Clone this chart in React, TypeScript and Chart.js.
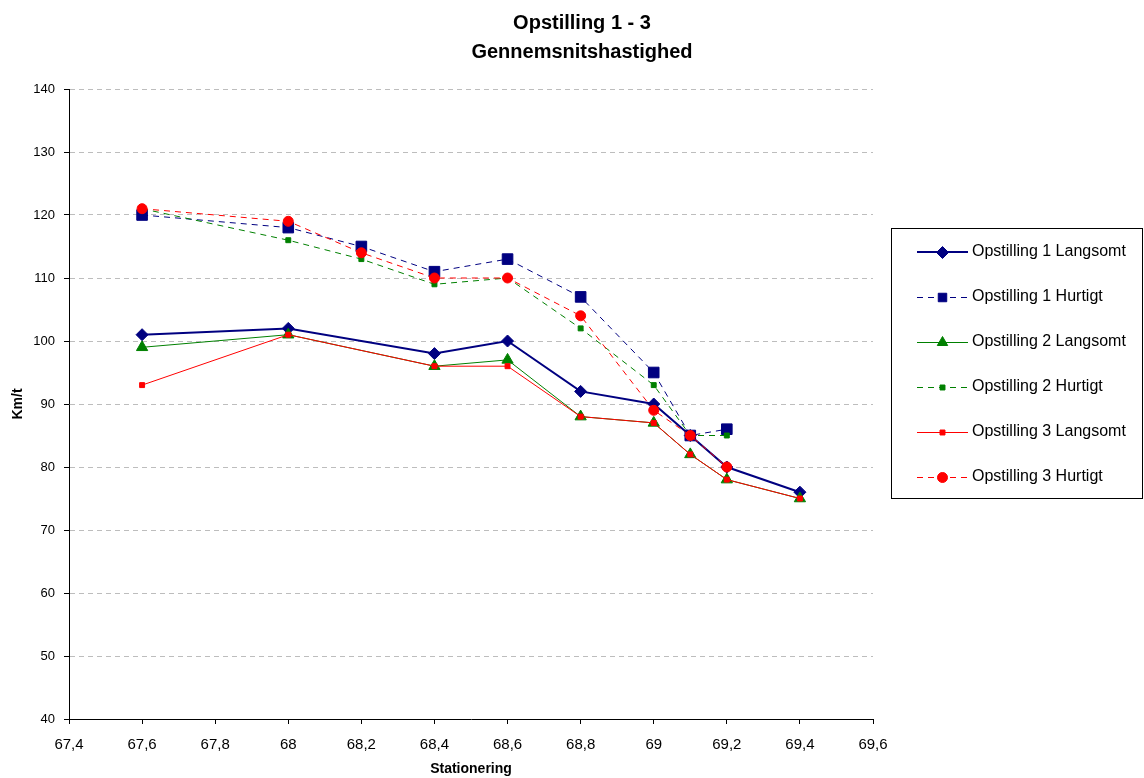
import React, { useEffect, useRef } from 'react';
import { Chart, registerables } from 'chart.js';

Chart.register(...registerables);

// ---- Data ----
const stationsLangsomt = [67.6, 68, 68.4, 68.6, 68.8, 69, 69.1, 69.2, 69.4];
const stationsHurtigt = [67.6, 68, 68.2, 68.4, 68.6, 68.8, 69, 69.1, 69.2];

const op1Langsomt = [101, 102, 98, 100, 92, 90, 85, 80, 76];
const op1Hurtigt = [120, 118, 115, 111, 113, 107, 95, 85, 86];
const op2Langsomt = [99, 101, 96, 97, 88, 87, 82, 78, 75];
const op2Hurtigt = [121, 116, 113, 109, 110, 102, 93, 85, 85];
const op3Langsomt = [93, 101, 96, 96, 88, 87, 82, 78, 75];
const op3Hurtigt = [121, 119, 114, 110, 110, 104, 89, 85, 80];

const seriesLabels = [
  'Opstilling 1 Langsomt',
  'Opstilling 1 Hurtigt',
  'Opstilling 2 Langsomt',
  'Opstilling 2 Hurtigt',
  'Opstilling 3 Langsomt',
  'Opstilling 3 Hurtigt',
];

const titleLines = ['Opstilling 1 - 3', 'Gennemsnitshastighed'];
const xAxisTitle = 'Stationering';
const yAxisTitle = 'Km/t';

const FONT = "'Liberation Sans', Arial, sans-serif";

const toPoints = (xs: number[], ys: number[]) => xs.map((x, i) => ({ x, y: ys[i] }));

type Style = {
  color: string;
  width: number;
  dash: number[];
  point: string;
  radius: number;
};

const styles: Style[] = [
  { color: '#000080', width: 2, dash: [], point: 'rectRot', radius: 6 },
  { color: '#000080', width: 1, dash: [6, 5], point: 'rect', radius: 7.5 },
  { color: '#008000', width: 1, dash: [], point: 'triangle', radius: 6.5 },
  { color: '#008000', width: 1, dash: [6, 5], point: 'rect', radius: 3.5 },
  { color: '#FF0000', width: 1, dash: [], point: 'rect', radius: 3.5 },
  { color: '#FF0000', width: 1, dash: [6, 5], point: 'circle', radius: 5 },
];

function drawMarker(ctx: CanvasRenderingContext2D, style: string, x: number, y: number, r: number, color: string) {
  ctx.save();
  ctx.fillStyle = color;
  ctx.strokeStyle = color;
  ctx.lineWidth = 1;
  ctx.setLineDash([]);
  ctx.beginPath();
  if (style === 'rectRot') {
    ctx.moveTo(x, y - r);
    ctx.lineTo(x + r, y);
    ctx.lineTo(x, y + r);
    ctx.lineTo(x - r, y);
    ctx.closePath();
  } else if (style === 'rect') {
    const s = Math.SQRT1_2 * r;
    ctx.rect(x - s, y - s, 2 * s, 2 * s);
  } else if (style === 'triangle') {
    let rad = 0;
    ctx.moveTo(x + Math.sin(rad) * r, y - Math.cos(rad) * r);
    rad += (2 * Math.PI) / 3;
    ctx.lineTo(x + Math.sin(rad) * r, y - Math.cos(rad) * r);
    rad += (2 * Math.PI) / 3;
    ctx.lineTo(x + Math.sin(rad) * r, y - Math.cos(rad) * r);
    ctx.closePath();
  } else {
    ctx.arc(x, y, r, 0, Math.PI * 2);
  }
  ctx.fill();
  ctx.stroke();
  ctx.restore();
}

const titlePlugin = {
  id: 'customTitle',
  afterDraw(chart: any) {
    const ctx = chart.ctx as CanvasRenderingContext2D;
    ctx.save();
    ctx.fillStyle = '#000';
    ctx.font = `bold 20px ${FONT}`;
    ctx.textAlign = 'center';
    ctx.textBaseline = 'middle';
    ctx.fillText(titleLines[0], 582, 23);
    ctx.fillText(titleLines[1], 582, 52);
    ctx.restore();
  },
};

const legendPlugin = {
  id: 'customLegend',
  afterDraw(chart: any) {
    const ctx = chart.ctx as CanvasRenderingContext2D;
    const boxL = 891.5, boxT = 228.5, boxW = 251, boxH = 270;
    ctx.save();
    ctx.fillStyle = '#fff';
    ctx.fillRect(boxL, boxT, boxW, boxH);
    ctx.strokeStyle = '#000';
    ctx.lineWidth = 1;
    ctx.strokeRect(boxL, boxT, boxW, boxH);
    chart.data.datasets.forEach((ds: any, i: number) => {
      const st = styles[i];
      const y = 251.5 + i * 45.1;
      const ly = Math.round(y) + (st.width % 2 ? 0.5 : 0);
      ctx.save();
      ctx.strokeStyle = st.color;
      ctx.lineWidth = st.width;
      ctx.setLineDash(st.dash);
      ctx.beginPath();
      ctx.moveTo(917, ly);
      ctx.lineTo(968, ly);
      ctx.stroke();
      ctx.restore();
      drawMarker(ctx, st.point, 942.5, Math.round(y) + 0.5, Math.min(st.radius, 6), st.color);
      ctx.fillStyle = '#000';
      ctx.font = `16px ${FONT}`;
      ctx.textAlign = 'left';
      ctx.textBaseline = 'middle';
      ctx.fillText(ds.label, 972, y);
    });
    ctx.restore();
  },
};

const formatTick = (v: number) => {
  const r = Math.round(v * 10) / 10;
  return String(r).replace('.', ',');
};

export default function App() {
  const canvasRef = useRef<HTMLCanvasElement | null>(null);

  useEffect(() => {
    if (!canvasRef.current) return;
    const seriesData = [
      toPoints(stationsLangsomt, op1Langsomt),
      toPoints(stationsHurtigt, op1Hurtigt),
      toPoints(stationsLangsomt, op2Langsomt),
      toPoints(stationsHurtigt, op2Hurtigt),
      toPoints(stationsLangsomt, op3Langsomt),
      toPoints(stationsHurtigt, op3Hurtigt),
    ];
    const datasets = seriesData.map((data, i) => ({
      label: seriesLabels[i],
      data,
      borderColor: styles[i].color,
      backgroundColor: styles[i].color,
      borderWidth: styles[i].width,
      borderDash: styles[i].dash,
      pointStyle: styles[i].point,
      pointRadius: styles[i].radius,
      pointHoverRadius: styles[i].radius,
      pointBackgroundColor: styles[i].color,
      pointBorderColor: styles[i].color,
      pointBorderWidth: 1,
      tension: 0,
      fill: false,
      order: seriesData.length - i,
    }));

    const chart = new Chart(canvasRef.current, {
      type: 'line',
      data: { datasets },
      options: {
        animation: false,
        responsive: false,
        events: [],
        layout: { padding: { top: 89, right: 271, left: 0, bottom: 0 } },
        plugins: {
          legend: { display: false },
          title: { display: false },
          tooltip: { enabled: false },
        },
        scales: {
          x: {
            type: 'linear',
            min: 67.4,
            max: 69.6,
            afterFit: (scale: any) => {
              scale.height = 59;
            },
            ticks: {
              stepSize: 0.2,
              color: '#000',
              font: { family: FONT, size: 15 },
              padding: 12,
              maxRotation: 0,
              autoSkip: false,
              callback: (v: any) => formatTick(Number(v)),
            },
            grid: {
              display: true,
              drawOnChartArea: false,
              drawTicks: true,
              tickLength: 5,
              tickColor: '#000',
              tickBorderDash: [],
              color: '#000',
            },
            border: { display: true, color: '#000', width: 1, z: 1 },
            title: {
              display: true,
              text: xAxisTitle,
              color: '#000',
              font: { family: FONT, size: 14, weight: 'bold' },
              padding: { top: 0, bottom: 0 },
            },
          },
          y: {
            type: 'linear',
            min: 40,
            max: 140,
            afterFit: (scale: any) => {
              scale.width = 69;
            },
            ticks: {
              stepSize: 10,
              color: '#000',
              font: { family: FONT, size: 13 },
              padding: 9,
            },
            grid: {
              display: true,
              drawOnChartArea: true,
              drawTicks: true,
              tickLength: 5,
              tickColor: '#000',
              tickBorderDash: [],
              color: '#bdbdbd',
              lineWidth: 1,
            },
            border: { display: true, color: '#000', width: 1, dash: [5, 4], z: 1 },
            title: {
              display: true,
              text: yAxisTitle,
              color: '#000',
              font: { family: FONT, size: 14, weight: 'bold' },
              padding: { top: 10, bottom: 0 },
            },
          },
        },
      },
      plugins: [titlePlugin, legendPlugin],
    } as any);

    return () => {
      chart.destroy();
    };
  }, []);

  return (
    <div style={{ position: 'absolute', left: 0, top: 0, width: 1144, height: 778, background: '#fff' }}>
      <canvas ref={canvasRef} width={1144} height={778} style={{ display: 'block' }} />
    </div>
  );
}
